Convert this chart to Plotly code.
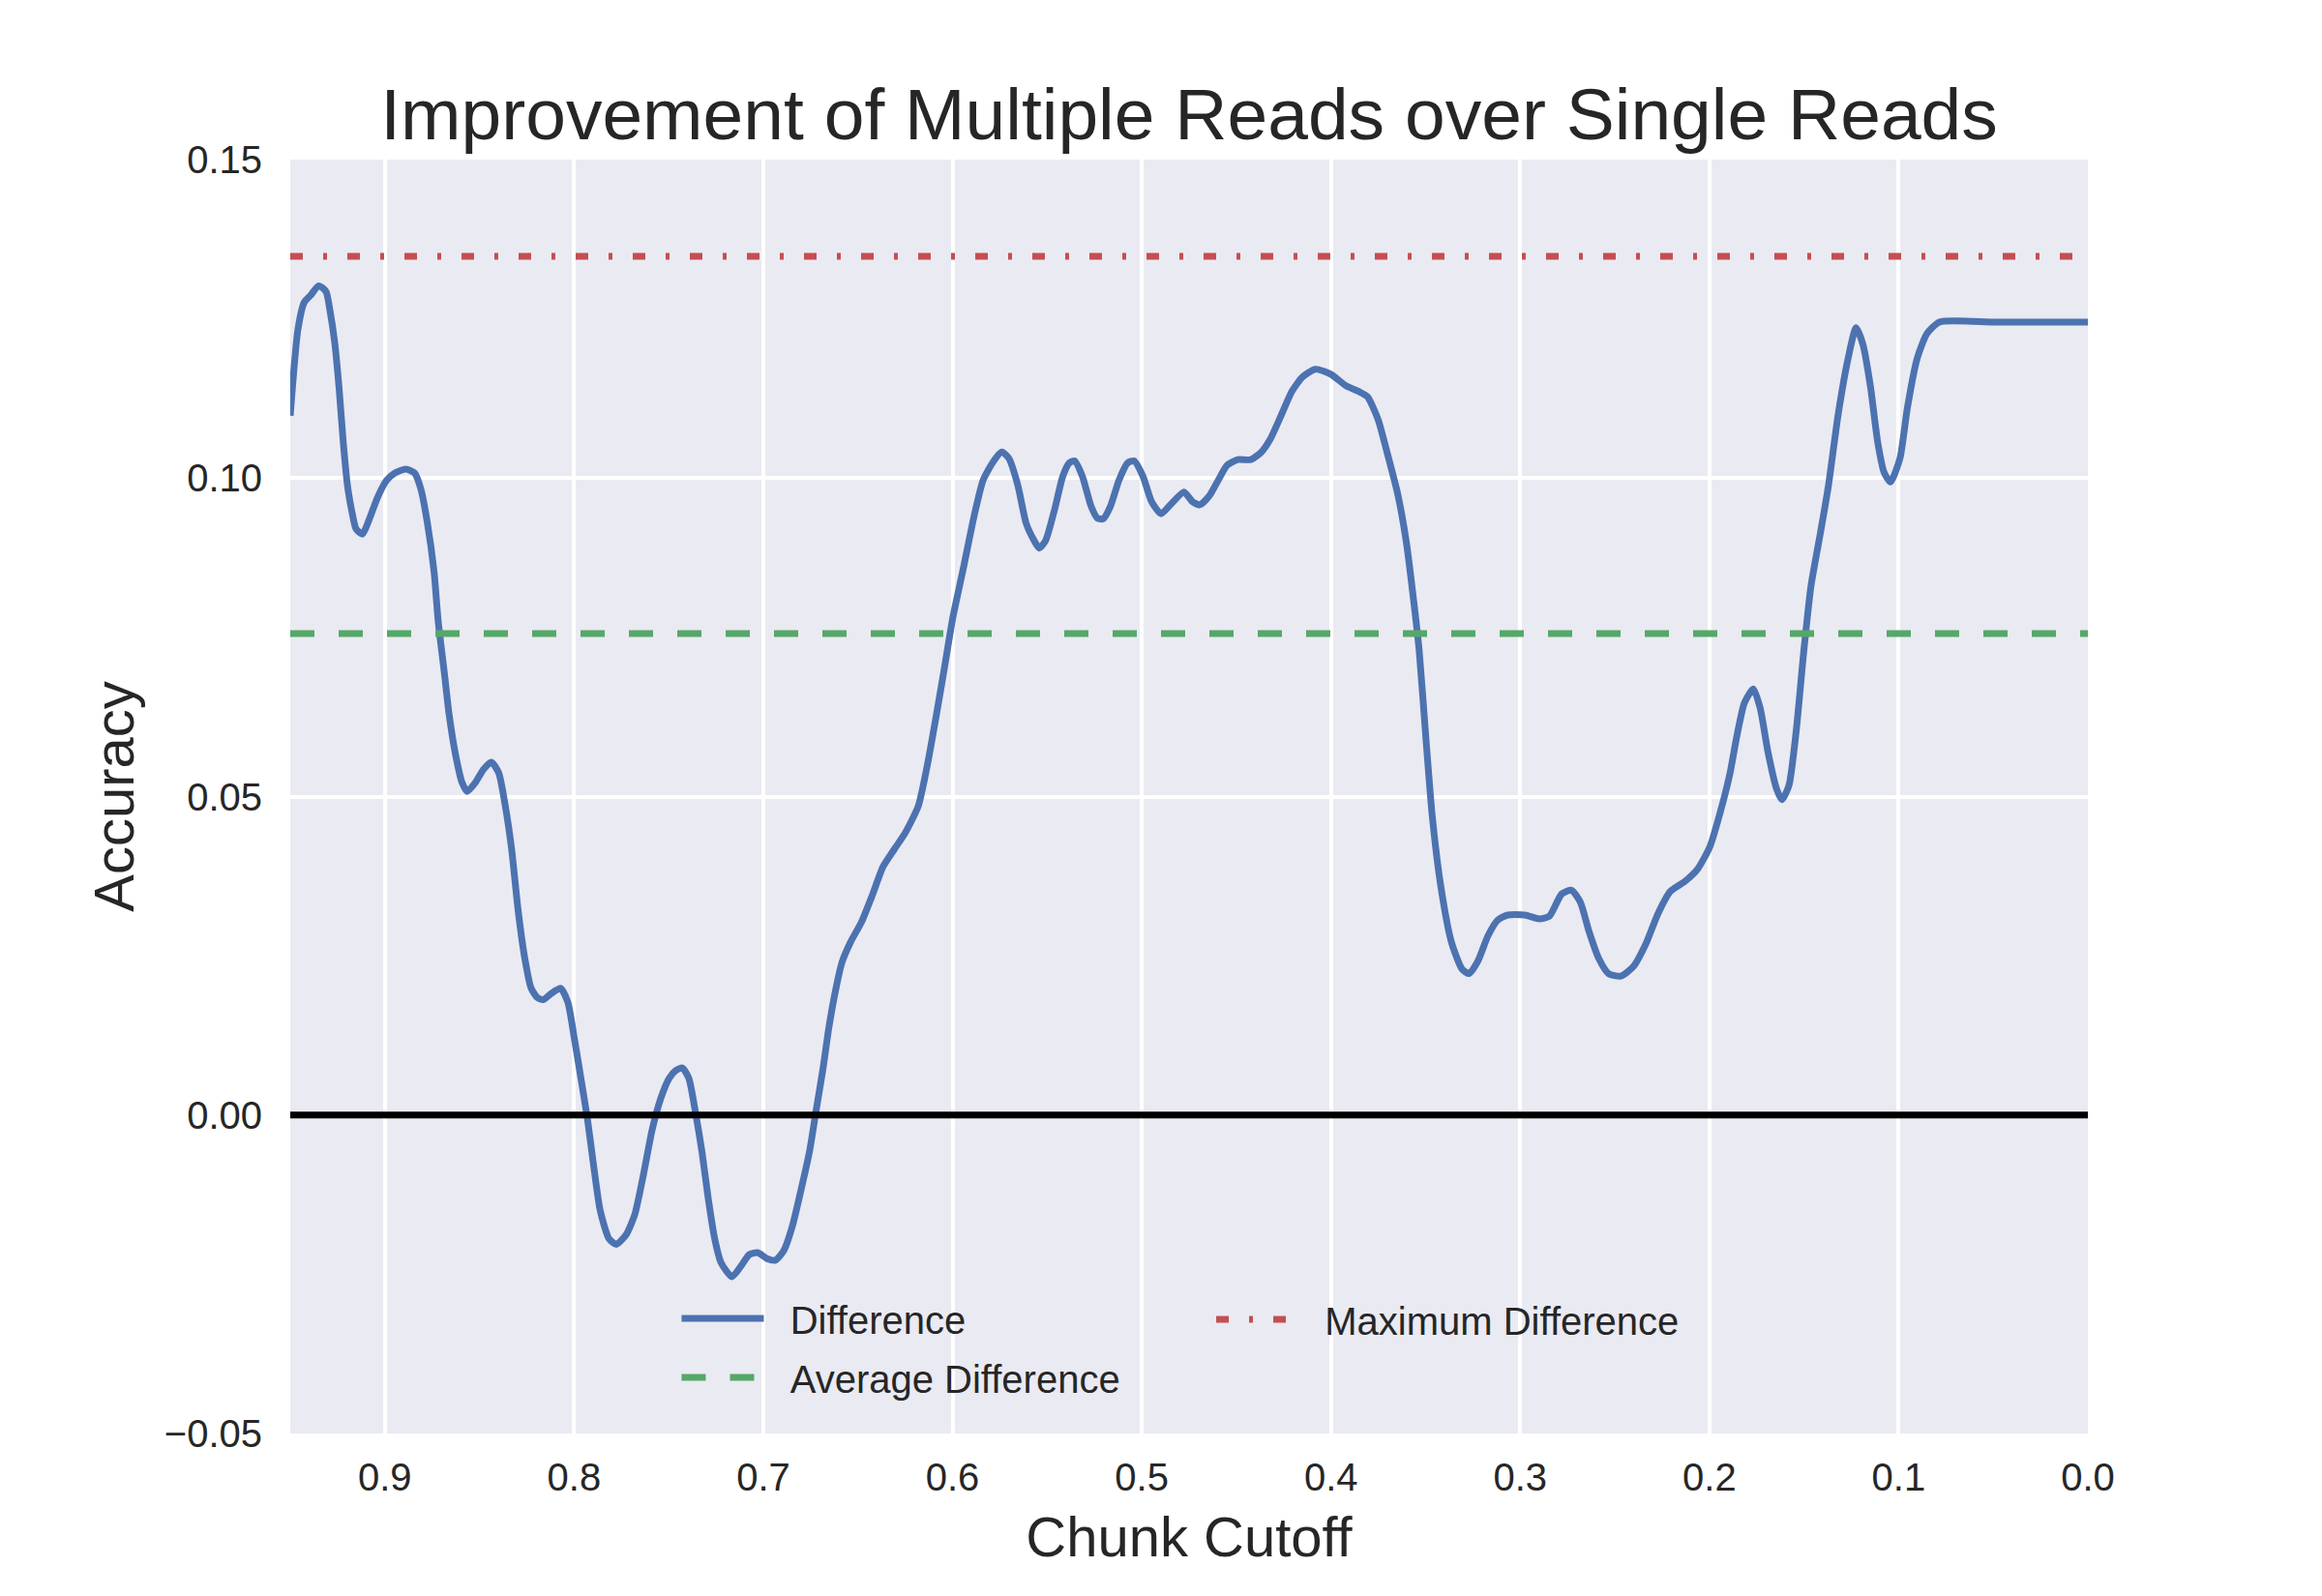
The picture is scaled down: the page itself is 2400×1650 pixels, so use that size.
import plotly.graph_objects as go

# ---- data ----
chunk_cutoff = [
    0.950, 0.946, 0.9426, 0.9392, 0.935, 0.9311, 0.9289, 0.9266, 0.9243, 0.9220,
    0.9197, 0.9174, 0.9152, 0.9118, 0.9083, 0.9038, 0.8992, 0.8947, 0.8889, 0.8843,
    0.8809, 0.8775, 0.8740, 0.8718, 0.8684, 0.8661, 0.8626, 0.8592, 0.8565, 0.8524,
    0.8478, 0.8437, 0.8398, 0.8364, 0.8330, 0.8296, 0.8261, 0.8227, 0.8193, 0.8163,
    0.8124, 0.8072, 0.8033, 0.7999, 0.7964, 0.7930, 0.7896, 0.7862, 0.7816, 0.7777,
    0.7725, 0.7679, 0.7633, 0.7588, 0.7542, 0.7497, 0.7462, 0.7428, 0.7394, 0.7360,
    0.7325, 0.7291, 0.7257, 0.7223, 0.7166, 0.7120, 0.7074, 0.7029, 0.6983, 0.6937,
    0.6892, 0.6847, 0.6801, 0.6755, 0.6721, 0.6686, 0.6652, 0.6618, 0.6584, 0.6538,
    0.6481, 0.6424, 0.6367, 0.6306, 0.6250, 0.6181, 0.6136, 0.6090, 0.6044, 0.5999,
    0.5941, 0.5884, 0.5838, 0.5782, 0.5740, 0.5702, 0.5656, 0.5611, 0.5569, 0.5542,
    0.5508, 0.5462, 0.5417, 0.5382, 0.5355, 0.5314, 0.5268, 0.5234, 0.5204, 0.5165,
    0.5120, 0.5074, 0.5040, 0.4994, 0.4948, 0.4898, 0.4846, 0.4777, 0.4732, 0.4693,
    0.4641, 0.4595, 0.4549, 0.4492, 0.4423, 0.4367, 0.4321, 0.4264, 0.4207, 0.4150,
    0.4082, 0.4001, 0.3921, 0.3853, 0.3808, 0.3751, 0.3705, 0.3648, 0.3602, 0.3568,
    0.3534, 0.3499, 0.3465, 0.3419, 0.3363, 0.3307, 0.3270, 0.3223, 0.3171, 0.3119,
    0.3067, 0.2976, 0.2898, 0.2846, 0.2781, 0.2729, 0.2682, 0.2638, 0.2585, 0.2533,
    0.2468, 0.2402, 0.2337, 0.2272, 0.2207, 0.2129, 0.2063, 0.1998, 0.1945, 0.1893,
    0.1855, 0.1815, 0.1768, 0.1732, 0.1690, 0.1645, 0.1617, 0.1580, 0.1541, 0.1502,
    0.1463, 0.1411, 0.1371, 0.1319, 0.1267, 0.1225, 0.1189, 0.1149, 0.1111, 0.1077,
    0.1043, 0.0993, 0.0954, 0.0902, 0.0850, 0.0784, 0.0500, 0.0250, 0.0000,
]
difference = [
    0.1098, 0.1232, 0.1276, 0.1287, 0.1302, 0.1293, 0.1261, 0.1215, 0.1145, 0.1057,
    0.0987, 0.0947, 0.0920, 0.0912, 0.0935, 0.0970, 0.0996, 0.1008, 0.1014, 0.1008,
    0.0982, 0.0929, 0.0853, 0.0775, 0.0690, 0.0630, 0.0565, 0.0522, 0.0508, 0.0521,
    0.0543, 0.0554, 0.0537, 0.0486, 0.0417, 0.0322, 0.0247, 0.0199, 0.0184, 0.0181,
    0.0190, 0.0199, 0.0177, 0.0121, 0.0058, -0.0005, -0.0081, -0.0150, -0.0194, -0.0203,
    -0.0188, -0.0156, -0.0093, -0.0024, 0.0026, 0.0058, 0.0070, 0.0074, 0.0058, 0.0007,
    -0.0056, -0.0131, -0.0194, -0.0232, -0.0254, -0.0238, -0.0219, -0.0216, -0.0225, -0.0228,
    -0.0213, -0.0175, -0.0118, -0.0056, 0.0007, 0.0070, 0.0140, 0.0196, 0.0240, 0.0272,
    0.0303, 0.0345, 0.0390, 0.0418, 0.0443, 0.0485, 0.0545, 0.0620, 0.0700, 0.0780,
    0.0861, 0.0943, 0.0997, 0.1027, 0.1041, 0.1031, 0.0990, 0.0929, 0.0902, 0.0890,
    0.0902, 0.0949, 0.1003, 0.1024, 0.1027, 0.1003, 0.0956, 0.0937, 0.0936, 0.0956,
    0.0997, 0.1024, 0.1027, 0.1003, 0.0963, 0.0944, 0.0959, 0.0978, 0.0963, 0.0958,
    0.0973, 0.0997, 0.1020, 0.1029, 0.1029, 0.1041, 0.1061, 0.1098, 0.1136, 0.1159,
    0.1171, 0.1163, 0.1145, 0.1136, 0.1128, 0.1092, 0.1042, 0.0976, 0.0900, 0.0820,
    0.0730, 0.0594, 0.0470, 0.0358, 0.0271, 0.0229, 0.0222, 0.0242, 0.0281, 0.0306,
    0.0314, 0.0314, 0.0308, 0.0312, 0.0347, 0.0353, 0.0334, 0.0290, 0.0246, 0.0222,
    0.0218, 0.0233, 0.0268, 0.0316, 0.0351, 0.0367, 0.0386, 0.0421, 0.0473, 0.0534,
    0.0595, 0.0647, 0.0669, 0.0639, 0.0569, 0.0512, 0.0495, 0.0517, 0.0604, 0.0726,
    0.0831, 0.0918, 0.0988, 0.1101, 0.1188, 0.1236, 0.1210, 0.1144, 0.1057, 0.1009,
    0.0994, 0.1031, 0.1110, 0.1188, 0.1227, 0.1245, 0.1245, 0.1245, 0.1245,
]
average_difference = 0.0756
maximum_difference = 0.1348
zero_level = 0.0

x_tick_vals = [0.9, 0.8, 0.7, 0.6, 0.5, 0.4, 0.3, 0.2, 0.1, 0.0]
x_tick_text = ["0.9", "0.8", "0.7", "0.6", "0.5", "0.4", "0.3", "0.2", "0.1", "0.0"]
y_tick_vals = [0.15, 0.10, 0.05, 0.00, -0.05]
y_tick_text = ["0.15", "0.10", "0.05", "0.00", "\u22120.05"]

x_lo, x_hi = min(chunk_cutoff), max(chunk_cutoff)

FONT = "Liberation Sans, Arial, Helvetica, sans-serif"
TXT = "#262626"
PAD = "\u00a0\u00a0"  # gap between legend sample and label

fig = go.Figure()
fig.add_trace(go.Scatter(
    x=chunk_cutoff, y=difference, mode="lines", name=PAD + "Difference",
    line=dict(color="#4C72B0", width=7, shape="spline", smoothing=0.6),
    legend="legend", legendgroup="g1",
))
fig.add_trace(go.Scatter(
    x=[x_hi, x_lo], y=[average_difference, average_difference], mode="lines",
    name=PAD + "Average Difference",
    line=dict(color="#55A868", width=7, dash="25px,25px"),
    legend="legend", legendgroup="g2",
))
fig.add_trace(go.Scatter(
    x=[x_hi, x_lo], y=[maximum_difference, maximum_difference], mode="lines",
    name=PAD + "Maximum Difference",
    line=dict(color="#C44E52", width=7, dash="13px,21px,4px,21px"),
    legend="legend2", legendgroup="g3",
))
fig.add_trace(go.Scatter(
    x=[x_hi, x_lo], y=[zero_level, zero_level], mode="lines", showlegend=False,
    line=dict(color="black", width=7), hoverinfo="skip",
))

legend_common = dict(
    orientation="v", xanchor="left", yanchor="middle",
    xref="paper", yref="paper",
    bgcolor="rgba(0,0,0,0)", borderwidth=0,
    font=dict(family=FONT, size=40, color=TXT),
    itemwidth=85, traceorder="grouped", tracegroupgap=6,
)

fig.update_layout(
    width=2400, height=1650,
    paper_bgcolor="white", plot_bgcolor="#EAEAF2",
    margin=dict(l=300, r=242, t=165, b=168),
    font=dict(family=FONT, color=TXT, size=40),
    title=dict(
        text="Improvement of Multiple Reads over Single Reads",
        font=dict(family=FONT, size=75, color=TXT),
        x=0.5, xref="paper", xanchor="center",
        y=1 - 118 / 1650, yref="container", yanchor="middle",
    ),
    showlegend=True,
    legend=dict(x=0.215, y=0.0672, **legend_common),
    legend2=dict(x=0.5124, y=0.0896, **legend_common),
)
fig.update_xaxes(
    range=[0.95, 0.0], tickvals=x_tick_vals, ticktext=x_tick_text,
    showgrid=True, gridcolor="white", gridwidth=4,
    zeroline=False, showline=False,
    ticks="outside", ticklen=10, tickcolor="rgba(0,0,0,0)",
    tickfont=dict(family=FONT, size=40, color=TXT),
    title=dict(text="Chunk Cutoff", font=dict(family=FONT, size=58, color=TXT), standoff=20),
)
fig.update_yaxes(
    range=[-0.05, 0.15], tickvals=y_tick_vals, ticktext=y_tick_text,
    showgrid=True, gridcolor="white", gridwidth=4,
    zeroline=False, showline=False,
    ticks="outside", ticklen=20, tickcolor="rgba(0,0,0,0)",
    tickfont=dict(family=FONT, size=40, color=TXT),
    title=dict(text="Accuracy", font=dict(family=FONT, size=58, color=TXT), standoff=12),
)

fig.write_html(
    "out.html",
    config={"displayModeBar": False},
    post_script="document.body.style.margin='0';",
)
